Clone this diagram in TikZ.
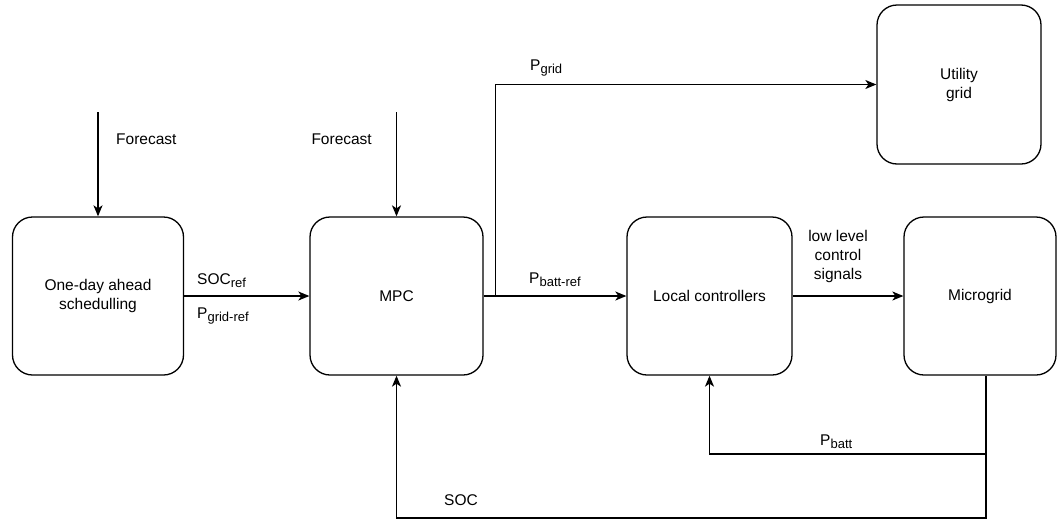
\documentclass[tikz,border=0pt]{standalone}
\usepackage{fontspec}
\setmainfont{Liberation Sans}
\usetikzlibrary{arrows.meta}
% quantity with a lowered, smaller index
\newcommand\qty[2]{#1\raisebox{-3.5pt}{\fontsize{13}{15}\selectfont #2}}

\begin{document}
\begin{tikzpicture}[x=1pt,y=-1pt,
  every node/.style={font=\fontsize{15.5}{19}\selectfont},
  block/.style={draw, line width=1.3pt, rounded corners=20pt, inner sep=0pt,
                align=center, minimum height=158pt},
  arr/.style={draw, line width=1.3pt, -{Stealth[length=11pt,width=9pt,inset=3pt]}},
  txt/.style={inner sep=0pt, align=center}]
\useasboundingbox (0,0) rectangle (1057,520);

% blocks
\node[block, minimum width=171pt] (sched) at (98,296) {One-day ahead\\schedulling};
\node[block, minimum width=173pt] (mpc)   at (396.5,296) {MPC};
\node[block, minimum width=165pt] (lc)    at (709.5,296) {Local controllers};
\node[block, minimum width=152pt] (mg)    at (980,296) {Microgrid};
\node[block, minimum width=164pt, minimum height=159pt] (ug) at (959,84.5) {Utility\\grid};

% forecast inputs
\coordinate (f1) at (98,112);
\coordinate (f2) at (396.5,112);
\draw[arr] (f1) -- (sched.north);
\draw[arr] (f2) -- (mpc.north);
\node[txt, anchor=west] (fl1) at (116,139) {Forecast};
\node[txt, anchor=east] (fl2) at (372,139) {Forecast};

% forward path
\draw[arr] (sched.east) -- (mpc.west);
\node[txt, anchor=base west] (socref) at (197,284) {\qty{SOC}{ref}};
\node[txt, anchor=base west] (pgref)  at (197,318) {\qty{P}{grid-ref}};

\draw[arr] (mpc.east) -- (lc.west);
\node[txt, anchor=base west] (pbref) at (529,283) {\qty{P}{batt-ref}};

\coordinate (split) at ([xshift=12pt]mpc.east);
\draw[arr] (split) |- (ug.west);
\node[txt, anchor=base west] (pg) at (530,70) {\qty{P}{grid}};

\draw[arr] (lc.east) -- (mg.west);
\node[txt] (lowl) at (838,256) {low level\\control\\signals};

% feedback paths
\coordinate (mgout) at ([xshift=6pt]mg.south);
\coordinate (fbj) at (mgout |- 0,454);
\coordinate (fbb) at (mgout |- 0,518);
\draw[arr] (mgout) -- (fbj) -| (lc.south);
\draw[arr] (fbj) -- (fbb) -| (mpc.south);
\node[txt, anchor=base west] (pb)  at (820,445) {\qty{P}{batt}};
\node[txt, anchor=base west] (soc) at (444,505) {SOC};
\end{tikzpicture}
\end{document}
